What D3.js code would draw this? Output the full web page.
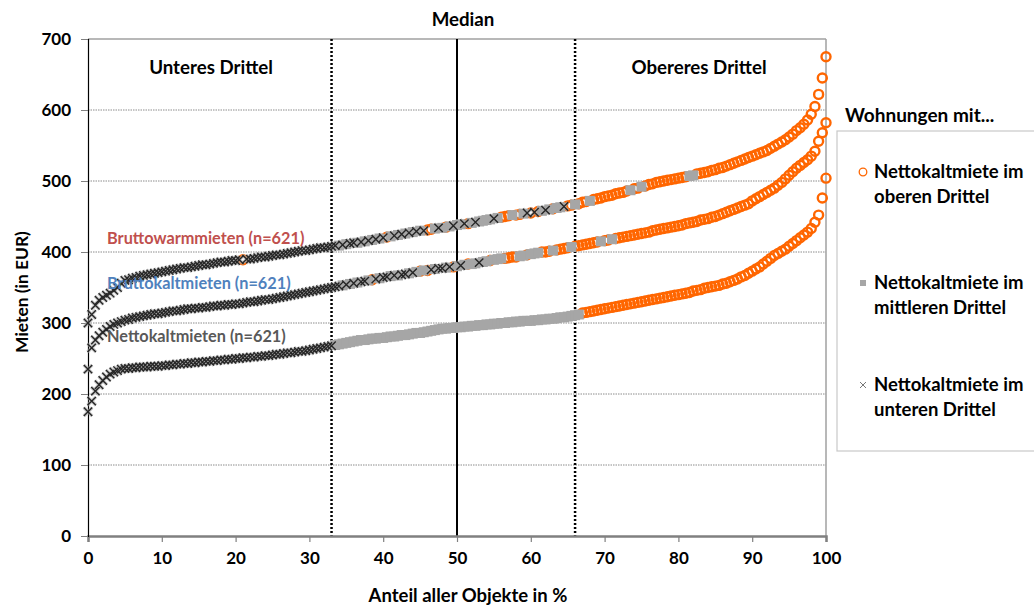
<!DOCTYPE html>
<html><head><meta charset="utf-8">
<script src="https://cdn.jsdelivr.net/npm/d3@7"></script>
<style>
body{margin:0;background:#fff;}
svg{display:block;font-family:Lato,"Open Sans",sans-serif;font-weight:bold;}
</style></head>
<body><svg id="c" width="1034" height="606"></svg>
<script>
// ---- data (values in EUR, sorted; x position = rank share in %) ----
const xTicks = [0,10,20,30,40,50,60,70,80,90,100];
const yTicks = [0,100,200,300,400,500,600,700];
const seriesNames = ["Bruttowarmmieten (n=621)","Bruttokaltmieten (n=621)","Nettokaltmieten (n=621)"];
const legendTitle = "Wohnungen mit...";
const legendItems = [["Nettokaltmiete im","oberen Drittel"],["Nettokaltmiete im","mittleren Drittel"],["Nettokaltmiete im","unteren Drittel"]];
const zoneLabels = ["Unteres Drittel","Obereres Drittel","Median"];
const zoneLines = [33,50,66];

const bruttowarm = [
300,312,325,332,336,339,342,346,350,356,
360,361,363,364,366,367,368,369,370,371,
372,373,374,375,376,377,378,378,379,380,
381,382,382,383,384,385,386,386,387,388,
388,389,389,390,390,391,392,393,393,394,
395,396,396,397,398,399,400,401,402,402,
403,404,405,406,406,407,408,409,409,410,
411,412,413,413,414,415,416,417,418,419,
420,421,422,423,424,425,426,427,428,429,
430,430,431,432,433,434,434,435,436,437,
438,439,440,440,441,442,443,444,445,446,
447,448,449,450,451,452,452,453,454,455,
455,456,457,458,459,460,461,462,463,464,
465,466,467,468,470,471,472,474,475,476,
478,479,480,482,483,484,486,487,489,490,
492,493,495,496,498,499,500,501,502,503,
504,505,506,507,508,510,511,512,513,515,
516,518,519,521,523,525,527,529,531,533,
535,537,539,541,543,546,549,552,555,558,
562,566,571,575,580,586,594,605,622,645,
675];
const bruttokalt = [
235,265,276,282,287,291,295,298,300,302,
304,305,307,308,309,310,311,312,313,313,
314,315,316,317,317,318,319,320,320,321,
321,322,322,323,324,324,325,325,326,326,
327,327,328,329,330,330,331,332,333,333,
334,335,336,337,338,339,340,341,342,343,
344,345,346,347,348,349,350,351,352,353,
354,355,356,357,358,359,360,361,362,363,
364,365,366,367,367,368,369,370,371,372,
373,374,374,375,376,377,377,378,379,379,
380,381,382,383,383,384,385,386,387,388,
389,390,391,391,392,393,393,394,395,396,
397,398,399,400,400,401,402,403,404,405,
406,407,408,409,410,411,412,413,414,415,
416,417,418,419,420,421,422,423,424,425,
426,427,428,430,431,432,433,434,435,436,
437,438,440,441,442,443,445,446,447,449,
450,452,454,456,458,460,462,464,466,468,
472,475,478,481,484,487,490,494,498,503,
508,513,518,522,526,530,535,542,556,568,
582];
const nettokalt = [
175,190,204,213,219,224,228,231,233,235,
236,236,237,237,238,238,238,239,239,239,
240,240,241,241,242,242,243,243,244,244,
245,245,246,246,247,247,248,248,249,249,
250,250,251,251,252,252,253,253,254,254,
255,256,256,257,258,258,259,260,260,261,
262,263,264,265,266,267,268,269,270,271,
272,273,274,275,276,276,277,278,278,279,
279,280,281,281,282,283,283,284,285,286,
286,287,288,289,290,291,292,292,293,293,
294,294,295,295,296,296,297,297,298,298,
299,299,300,300,301,301,302,302,303,303,
303,304,304,305,305,306,306,307,308,308,
309,310,311,312,314,315,316,317,318,319,
320,321,322,323,324,325,326,327,328,329,
330,331,332,333,334,335,336,337,338,339,
340,341,342,343,345,346,347,349,350,351,
352,353,355,356,358,360,362,365,367,370,
373,376,379,383,387,391,395,398,401,404,
408,412,416,420,424,428,433,442,452,476,
504];
// Nettokaltmiete third of each flat (o = upper, m = middle, u = lower), as runs
const bruttowarmThird = [["u",42],["o",1],["u",24],["u",1],["m",1],["u",1],["m",1],["u",2],["m",1],["u",1],["m",1],["u",1],["m",1],["u",1],["m",1],["u",1],
["o",1],["m",1],["u",1],["m",1],["u",1],["m",1],["u",1],["m",1],["u",1],["m",1],["u",1],["o",2],["m",1],["u",1],["m",1],["o",1],
["m",1],["u",1],["m",2],["u",1],["o",1],["m",1],["u",1],["m",4],["u",1],["m",1],["o",3],["m",1],["o",2],["m",1],["u",1],
["o",1],["u",1],["o",1],["m",1],["u",1],["m",1],["o",1],["m",2],["u",1],["o",2],["m",1],["o",1],["o",2],["m",1],["o",10],["m",1],["o",2],["m",1],["o",12],["m",2],["o",36]];
const bruttokaltThird = [["u",67],["u",2],["m",1],["u",1],["m",1],["u",1],["m",1],["u",2],["m",1],["o",1],
["u",1],["m",1],["u",2],["m",1],["u",1],["m",1],["u",2],["m",1],["u",1],["m",1],["o",1],["m",1],["o",1],
["u",1],["m",1],["u",2],["m",1],["u",1],["o",1],["m",1],["u",1],["m",1],["o",1],["m",2],["u",1],["m",2],["o",1],["m",3],
["o",4],["m",2],["o",1],["m",3],["o",3],["m",1],["o",4],["m",1],["o",7],["m",1],["o",2],["m",1],["o",58]];
const nettokaltThird = [["u",67],["m",67],["o",67]];

// ---- drawing ----
const svg = d3.select("#c");
const x = d3.scaleLinear().domain([0,100]).range([88,826]);
const y = d3.scaleLinear().domain([0,700]).range([536,39]);
const expand = runs => runs.flatMap(([c,n]) => Array(n).fill(c));
const colOrange = "#ff6600", colGrey = "#a6a6a6", colX = "#262626";

// grid
svg.append("g").selectAll("line").data(yTicks.filter(t=>t>0 && t<700)).join("line")
  .attr("x1",x(0)).attr("x2",x(100)).attr("y1",d=>y(d)).attr("y2",d=>y(d))
  .attr("stroke","#8c8c8c").attr("stroke-width",1).attr("stroke-dasharray","1.5,1");
// frame top & right
svg.append("line").attr("x1",x(0)).attr("x2",x(100)).attr("y1",y(700)).attr("y2",y(700)).attr("stroke","#a0a0a0").attr("stroke-width",1.5);
svg.append("line").attr("x1",x(100)).attr("x2",x(100)).attr("y1",y(700)).attr("y2",y(0)).attr("stroke","#a0a0a0").attr("stroke-width",1.5);

// zone lines
zoneLines.forEach(v=>{
  svg.append("line").attr("x1",x(v)).attr("x2",x(v)).attr("y1",y(700)).attr("y2",y(0))
    .attr("stroke","#000").attr("stroke-width", v===50?2:2.5)
    .attr("stroke-dasharray", v===50?null:"2,2");
});

// axes
const gx = svg.append("g").attr("transform",`translate(0,${y(0)})`)
  .call(d3.axisBottom(x).tickValues(xTicks).tickSize(6).tickPadding(10).tickFormat(d3.format("d")));
gx.select(".domain").attr("stroke","#808080").attr("stroke-width",2.5);
gx.selectAll(".tick line").attr("stroke","#808080").attr("stroke-width",1.2);
gx.selectAll("text").attr("font-size",17).attr("font-family","Lato").attr("font-weight","bold").attr("fill","#000");
const gy = svg.append("g").attr("transform",`translate(${x(0)},0)`)
  .call(d3.axisLeft(y).tickValues(yTicks).tickSize(7).tickPadding(10).tickFormat(d3.format("d")));
gy.select(".domain").attr("stroke","#000").attr("stroke-width",1.2);
gy.selectAll(".tick line").attr("stroke","#808080");
gy.selectAll("text").attr("font-size",17).attr("font-family","Lato").attr("font-weight","bold").attr("fill","#000");

// points
const series = [[bruttowarm,bruttowarmThird],[bruttokalt,bruttokaltThird],[nettokalt,nettokaltThird]];
const pts = series.flatMap(([vals,runs]) => {
  const cats = expand(runs);
  return vals.map((v,i)=>({p:i/(vals.length-1)*100, v, c:cats[i]}));
});
const gp = svg.append("g");
gp.selectAll("circle").data(pts.filter(d=>d.c==="o")).join("circle")
  .attr("cx",d=>x(d.p)).attr("cy",d=>y(d.v)).attr("r",4.5)
  .attr("fill","none").attr("stroke",colOrange).attr("stroke-width",2.4);
gp.selectAll("rect").data(pts.filter(d=>d.c==="m")).join("rect")
  .attr("x",d=>x(d.p)-5).attr("y",d=>y(d.v)-5).attr("width",10).attr("height",10)
  .attr("fill",colGrey);
const xPath = d=>{const cx=x(d.p), cy=y(d.v), s=4.2;
    return `M${cx-s},${cy-s}L${cx+s},${cy+s}M${cx-s},${cy+s}L${cx+s},${cy-s}`;};
const uPts = pts.filter(d=>d.c==="u");
gp.append("g").selectAll("path").data(uPts).join("path").attr("d",xPath)
  .attr("stroke","#a8a8a8").attr("stroke-width",3.4).attr("fill","none").attr("opacity",0.6);
gp.append("g").selectAll("path").data(uPts).join("path").attr("d",xPath)
  .attr("stroke",colX).attr("stroke-width",1.4).attr("fill","none");

// zone labels
svg.append("text").attr("x",211).attr("y",74).attr("text-anchor","middle").attr("font-size",18.7).text(zoneLabels[0]);
svg.append("text").attr("x",699).attr("y",74).attr("text-anchor","middle").attr("font-size",18.7).text(zoneLabels[1]);
svg.append("text").attr("x",463).attr("y",26).attr("text-anchor","middle").attr("font-size",18.7).text(zoneLabels[2]);

// series labels
const labelCols = ["#c0504d","#4f81bd","#595959"];
const labelY = [244,289,342];
seriesNames.forEach((n,i)=>svg.append("text").attr("x",107).attr("y",labelY[i])
  .attr("font-size",16.3).attr("fill",labelCols[i]).text(n));

// axis titles
svg.append("text").attr("transform","translate(28,292) rotate(-90)").attr("text-anchor","middle").attr("font-size",17.4).text("Mieten (in EUR)");
svg.append("text").attr("x",468).attr("y",602).attr("text-anchor","middle").attr("font-size",18.5).text("Anteil aller Objekte in %");

// legend
svg.append("text").attr("x",845).attr("y",122).attr("font-size",19).text(legendTitle);
svg.append("rect").attr("x",837).attr("y",131).attr("width",210).attr("height",320)
  .attr("fill","#fff").attr("stroke","#c8c8c8").attr("stroke-width",1.2);
const legY = [172,283,385];
legendItems.forEach((lines,i)=>{
  const cy = legY[i];
  if(i===0) svg.append("circle").attr("cx",863).attr("cy",cy).attr("r",3.8).attr("fill","none").attr("stroke",colOrange).attr("stroke-width",1.3);
  if(i===1) svg.append("rect").attr("x",860).attr("y",cy-3).attr("width",6).attr("height",6).attr("fill",colGrey);
  if(i===2) svg.append("path").attr("d",`M860,${cy-3}L866,${cy+3}M860,${cy+3}L866,${cy-3}`).attr("stroke","#777").attr("stroke-width",1);
  svg.append("text").attr("x",874).attr("y",cy+6).attr("font-size",18.5).text(lines[0]);
  svg.append("text").attr("x",874).attr("y",cy+31).attr("font-size",18.5).text(lines[1]);
});
</script></body></html>
